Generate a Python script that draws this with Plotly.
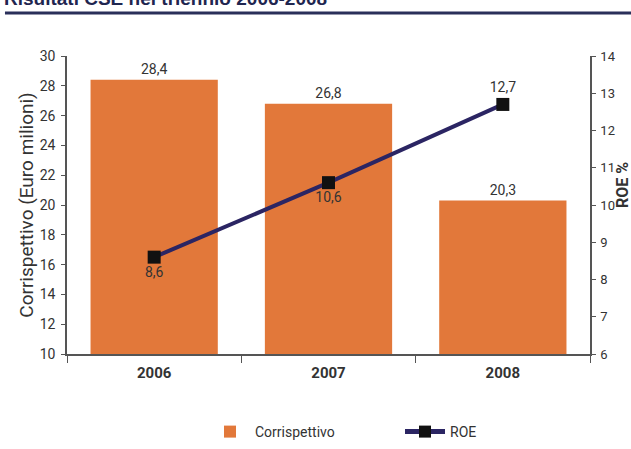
import plotly.graph_objects as go

years = ["2006", "2007", "2008"]
corrispettivo = [28.4, 26.8, 20.3]
roe = [8.6, 10.6, 12.7]
left_ticks = [10, 12, 14, 16, 18, 20, 22, 24, 26, 28, 30]
right_ticks = [6, 7, 8, 9, 10, 11, 12, 13, 14]

FONT = "Roboto, sans-serif"
TXT = "#333333"
AX = "#555555"

fig = go.Figure()
fig.add_trace(go.Bar(
    x=years, y=corrispettivo, name="Corrispettivo",
    marker=dict(color="#E2783A", line=dict(width=0)),
    texttemplate="%{y:.1f}", textposition="outside",
    textfont=dict(size=14, color=TXT, family=FONT),
    cliponaxis=False,
))
fig.add_trace(go.Scatter(
    x=years, y=roe, name="ROE", yaxis="y2",
    mode="lines+markers+text",
    line=dict(color="#2B2563", width=4),
    marker=dict(symbol="square", size=13, color="#111111"),
    texttemplate="%{y:.1f}",
    textposition=["bottom center", "bottom center", "top center"],
    textfont=dict(size=14, color=TXT, family=FONT),
    cliponaxis=False,
))

fig.update_layout(
    width=631, height=449,
    margin=dict(l=67, r=41, t=56, b=95, autoexpand=False),
    paper_bgcolor="white", plot_bgcolor="white",
    separators=",.",
    bargap=0.27,
    showlegend=True,
    legend=dict(orientation="h", xref="container", x=205 / 631, xanchor="left",
                yref="container", y=1 - 432 / 449, yanchor="middle",
                font=dict(size=14, color=TXT, family=FONT), itemwidth=40,
                entrywidth=140, entrywidthmode="pixels", itemsizing="constant"),
    font=dict(family=FONT, color=TXT),
    xaxis=dict(
        showline=True, linecolor=AX, linewidth=1.5, automargin=False,
        ticks="outside", tickson="boundaries", ticklen=7, tickcolor=AX,
        ticklabelstandoff=4,
        tickfont=dict(size=15, color=TXT, family=FONT, weight="bold"),
        showgrid=False,
    ),
    yaxis=dict(
        range=[10, 30], tickvals=left_ticks, showline=True, linecolor=AX, linewidth=1.5,
        ticks="outside", ticklen=4, tickcolor=AX, showgrid=False, zeroline=False,
        automargin=False, ticklabelstandoff=3,
        tickfont=dict(size=14, color=TXT, family=FONT),
        title=dict(text="Corrispettivo (Euro milioni)", font=dict(size=19, color=TXT, family=FONT), standoff=1),
    ),
    yaxis2=dict(
        range=[6, 14], tickvals=right_ticks, overlaying="y", side="right",
        showline=True, linecolor=AX, linewidth=1.5, automargin=False, ticklabelstandoff=2,
        ticks="outside", ticklen=4, tickcolor=AX, showgrid=False, zeroline=False,
        tickfont=dict(size=13, color=TXT, family=FONT),
    ),
)

fig.add_annotation(
    text="<b>ROE %</b>", textangle=-90,
    xref="paper", yref="paper", x=1 + (622 - 590) / 523, y=(354 - 185) / 298,
    xanchor="center", yanchor="middle", showarrow=False,
    font=dict(size=16, color=TXT, family=FONT),
)
fig.add_annotation(
    text="<b>Risultati CSE nel triennio 2006-2008</b>",
    xref="paper", yref="paper", x=-0.125, y=1 + (56 - 11) / 298, xanchor="left", yanchor="bottom",
    showarrow=False, font=dict(size=19, color="#1F2650", family="Liberation Sans, sans-serif"),
)
fig.add_shape(type="line", xref="paper", yref="paper", x0=-0.1186, x1=1.1,
              y0=1 + (56 - 13) / 298, y1=1 + (56 - 13) / 298,
              line=dict(color="#2A2F5A", width=3))

fig.write_html("out.html", config={"displayModeBar": False},
               post_script="document.body.style.margin='0';document.body.style.overflow='hidden';")
